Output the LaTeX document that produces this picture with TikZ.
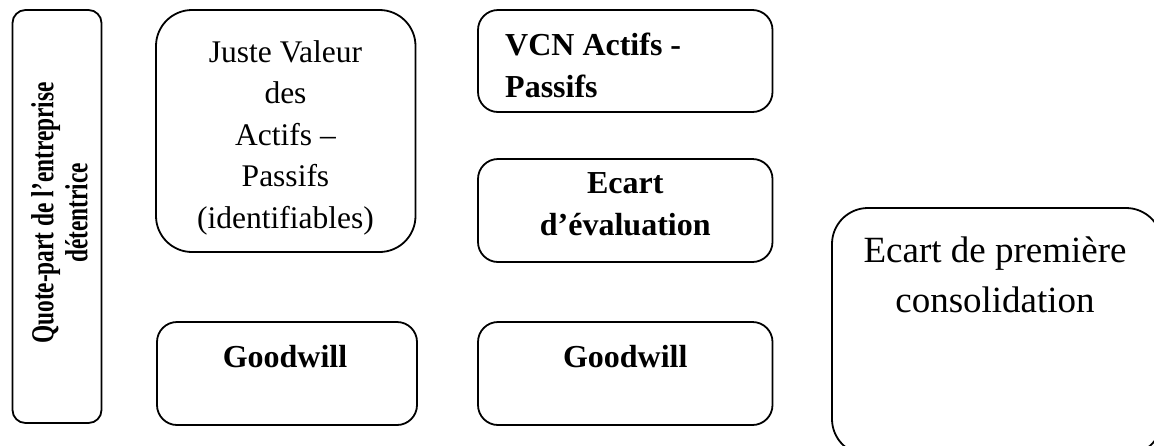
\documentclass[tikz,border=0pt]{standalone}
\usepackage{fontspec}
\usepackage{graphicx}
\setmainfont{Liberation Serif}
\begin{document}
\begin{tikzpicture}[x=1pt, y=-1pt,
  box/.style={draw, line width=1.8pt, rounded corners=#1, inner sep=0pt, minimum width=0pt, minimum height=0pt},
  plain/.style={inner sep=0pt, font=\fontsize{31.5}{41.5}\selectfont, align=center},
  boldtxt/.style={inner sep=0pt, font=\fontsize{32}{42}\selectfont\bfseries},
  big/.style={inner sep=0pt, font=\fontsize{37}{50}\selectfont, align=center}]
\clip (0,0) rectangle (1154,445);

% frames
\node[box=13pt, minimum width=89pt,    minimum height=413pt] (quote)    at (57,216.5) {};
\node[box=36pt, minimum width=259.5pt, minimum height=242pt] (juste)    at (285.75,131) {};
\node[box=20pt, minimum width=294.5pt, minimum height=102pt] (vcn)      at (625.25,61) {};
\node[box=20pt, minimum width=294.5pt, minimum height=103pt] (ecart)    at (625.25,210.5) {};
\node[box=20pt, minimum width=260pt,   minimum height=103pt] (goodA)    at (287,373.5) {};
\node[box=20pt, minimum width=294.5pt, minimum height=103pt] (goodB)    at (625.25,373.5) {};
\node[box=36pt, minimum width=330pt,   minimum height=247pt] (premiere) at (997,331.5) {};

% labels (a multi-line node's base anchor sits on its last line)
\node[inner sep=0pt, rotate=90, align=center, font=\fontsize{32}{34}\selectfont\bfseries] (quoteT) at (59.5,213)
  {\scalebox{0.73}[1]{Quote-part de l’entreprise}\\\scalebox{0.73}[1]{détentrice}};
\node[plain, anchor=base] (justeT) at (285.5,228)
  {Juste Valeur\\des\\Actifs –\\Passifs\\(identifiables)};
\node[boldtxt, align=left, anchor=base west] (vcnT) at (505,97) {VCN Actifs -\\Passifs};
\node[boldtxt, align=center, anchor=base] (ecartT) at (625.25,235) {Ecart\\d’évaluation};
\node[boldtxt, anchor=base] (goodAT) at (285,367) {Goodwill};
\node[boldtxt, anchor=base] (goodBT) at (625.25,367) {Goodwill};
\node[big, anchor=base] (premiereT) at (995,312) {Ecart de première\\consolidation};
\end{tikzpicture}
\end{document}
